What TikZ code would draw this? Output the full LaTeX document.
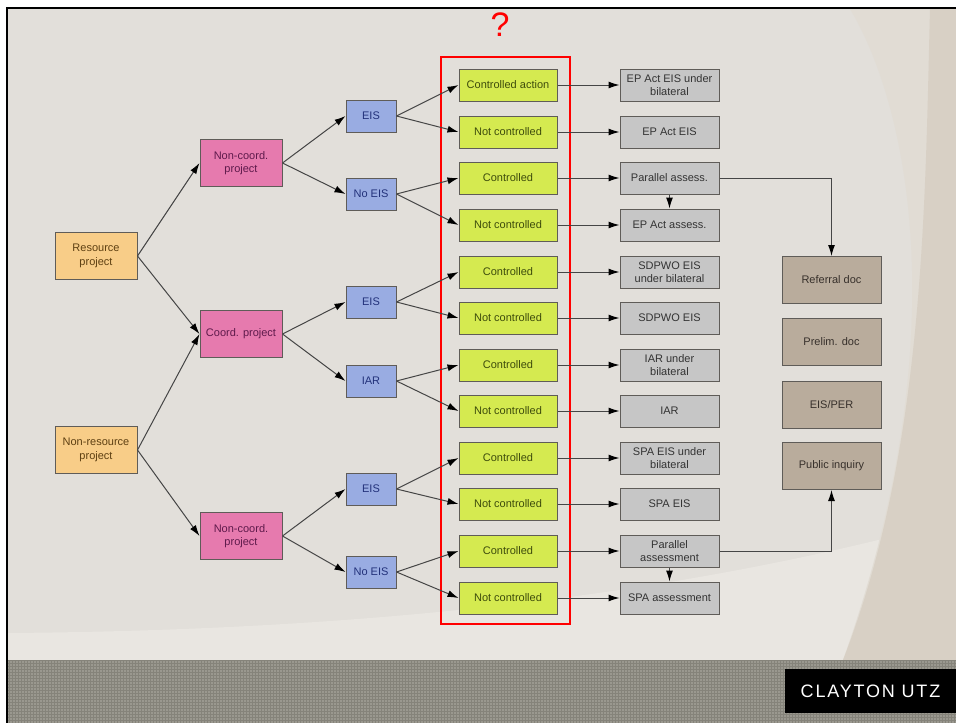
\documentclass[tikz,border=0pt]{standalone}
\usepackage{fontspec}
\setmainfont{Liberation Sans}
\newfontfamily\logofont[LetterSpace=10]{Liberation Sans}
\usetikzlibrary{arrows.meta}

\definecolor{bgmain}{HTML}{E2DFDA}
\definecolor{bglight}{HTML}{E9E6E1}
\definecolor{bgbeige}{HTML}{D8D0C5}
\definecolor{bgpale}{HTML}{E1DCD4}
\definecolor{footgrey}{HTML}{9A988F}
\definecolor{footline}{HTML}{85837A}
\definecolor{srcfill}{HTML}{F8CD88}
\definecolor{srctext}{HTML}{5E4012}
\definecolor{projfill}{HTML}{E67AAE}
\definecolor{projtext}{HTML}{5E1A4B}
\definecolor{eisfill}{HTML}{99ACE2}
\definecolor{eistext}{HTML}{22317A}
\definecolor{ctrlfill}{HTML}{D5EA50}
\definecolor{ctrltext}{HTML}{3E4C0C}
\definecolor{outfill}{HTML}{C6C6C6}
\definecolor{outtext}{HTML}{333333}
\definecolor{docfill}{HTML}{B9AC9C}
\definecolor{doctext}{HTML}{37302B}
\definecolor{boxline}{HTML}{5F5C58}
\definecolor{linkgrey}{HTML}{454545}

\tikzset{
  base/.style={rectangle, draw=boxline, line width=1pt, align=center, inner sep=1pt,
    font=\fontsize{11}{13.5}\selectfont},
  srcbox/.style={base, fill=srcfill, text=srctext, minimum width=82pt, minimum height=47pt},
  projbox/.style={base, fill=projfill, text=projtext, minimum width=82pt, minimum height=47pt},
  eisbox/.style={base, fill=eisfill, text=eistext, minimum width=50pt, minimum height=32pt},
  ctrlbox/.style={base, fill=ctrlfill, text=ctrltext, minimum width=98pt, minimum height=32pt},
  outbox/.style={base, fill=outfill, text=outtext, minimum width=99pt, minimum height=32pt},
  docbox/.style={base, fill=docfill, text=doctext, minimum width=99pt, minimum height=47pt},
  link/.style={draw=linkgrey, line width=1pt, -{Latex[length=11pt,width=7pt,black]}}
}

\begin{document}
\begin{tikzpicture}[x=1pt, y=-1pt]
\useasboundingbox (0,0) rectangle (956,723);
% slide background
\fill[white] (0,0) rectangle (956,723);
\fill[bgmain] (8,9) rectangle (956,660);
\fill[bglight] (8,633) .. controls (400,630) and (700,590) .. (956,520) -- (956,660) -- (8,660) -- cycle;
\fill[bgpale] (850,9) .. controls (905,100) and (960,330) .. (843,660) -- (956,660) -- (956,9) -- cycle;
\fill[bgbeige] (930,9) .. controls (925,200) and (925,450) .. (843,660) -- (956,660) -- (956,9) -- cycle;
\fill[footgrey] (8,660) rectangle (956,723);
\draw[footline, line width=0.6pt, step=3pt] (8,660) grid (956,723);
\draw[black, line width=2.5pt] (7,723) -- (7,8) -- (956,8);
\node[fill=black, text=white, minimum width=171pt, minimum height=44pt,
  font=\logofont\fontsize{18}{18}\selectfont] (logo) at (870.5,691) {CLAYTON UTZ};

% left part of the tree
\node[srcbox] (res) at (96,256) {Resource\\project};
\node[srcbox] (nonres) at (96,450) {Non-resource\\project};
\node[projbox] (ncA) at (241,163) {Non-coord.\\project};
\node[projbox] (coord) at (241,334) {Coord. project};
\node[projbox] (ncB) at (241,536) {Non-coord.\\project};
\node[eisbox] (eisA) at (371,116) {EIS};
\node[eisbox] (noeisA) at (371,194) {No EIS};
\node[eisbox] (eisB) at (371,302) {EIS};
\node[eisbox] (iar) at (371,381) {IAR};
\node[eisbox] (eisC) at (371,489) {EIS};
\node[eisbox] (noeisC) at (371,572) {No EIS};

% the questioned column
\node[text=red, font=\fontsize{34}{34}\selectfont] (query) at (500,25) {?};
\node[draw=red, line width=2.5pt, minimum width=129pt, minimum height=567pt] (group) at (505.5,340.5) {};
\node[ctrlbox] (c1) at (508,85) {Controlled action};
\node[ctrlbox] (c2) at (508,132) {Not controlled};
\node[ctrlbox] (c3) at (508,178) {Controlled};
\node[ctrlbox] (c4) at (508,225) {Not controlled};
\node[ctrlbox] (c5) at (508,272) {Controlled};
\node[ctrlbox] (c6) at (508,318) {Not controlled};
\node[ctrlbox] (c7) at (508,365) {Controlled};
\node[ctrlbox] (c8) at (508,411) {Not controlled};
\node[ctrlbox] (c9) at (508,458) {Controlled};
\node[ctrlbox] (c10) at (508,504) {Not controlled};
\node[ctrlbox] (c11) at (508,551) {Controlled};
\node[ctrlbox] (c12) at (508,598) {Not controlled};

% outcomes
\node[outbox] (o1) at (669.5,85) {EP Act EIS under\\bilateral};
\node[outbox] (o2) at (669.5,132) {EP Act EIS};
\node[outbox] (o3) at (669.5,178) {Parallel assess.};
\node[outbox] (o4) at (669.5,225) {EP Act assess.};
\node[outbox] (o5) at (669.5,272) {SDPWO EIS\\under bilateral};
\node[outbox] (o6) at (669.5,318) {SDPWO EIS};
\node[outbox] (o7) at (669.5,365) {IAR under\\bilateral};
\node[outbox] (o8) at (669.5,411) {IAR};
\node[outbox] (o9) at (669.5,458) {SPA EIS under\\bilateral};
\node[outbox] (o10) at (669.5,504) {SPA EIS};
\node[outbox] (o11) at (669.5,551) {Parallel\\assessment};
\node[outbox] (o12) at (669.5,598) {SPA assessment};

\node[docbox] (referral) at (831.5,280) {Referral doc};
\node[docbox] (prelim) at (831.5,342) {Prelim. doc};
\node[docbox] (eisper) at (831.5,405) {EIS/PER};
\node[docbox] (inquiry) at (831.5,466) {Public inquiry};

% connectors
\draw[link] (res.east) -- (ncA.west);
\draw[link] (res.east) -- (coord.west);
\draw[link] (nonres.east) -- (coord.west);
\draw[link] (nonres.east) -- (ncB.west);
\draw[link] (ncA.east) -- (eisA.west);
\draw[link] (ncA.east) -- (noeisA.west);
\draw[link] (coord.east) -- (eisB.west);
\draw[link] (coord.east) -- (iar.west);
\draw[link] (ncB.east) -- (eisC.west);
\draw[link] (ncB.east) -- (noeisC.west);
\draw[link] (eisA.east) -- (c1.west);
\draw[link] (eisA.east) -- (c2.west);
\draw[link] (noeisA.east) -- (c3.west);
\draw[link] (noeisA.east) -- (c4.west);
\draw[link] (eisB.east) -- (c5.west);
\draw[link] (eisB.east) -- (c6.west);
\draw[link] (iar.east) -- (c7.west);
\draw[link] (iar.east) -- (c8.west);
\draw[link] (eisC.east) -- (c9.west);
\draw[link] (eisC.east) -- (c10.west);
\draw[link] (noeisC.east) -- (c11.west);
\draw[link] (noeisC.east) -- (c12.west);
\draw[link] (c1.east) -- (o1.west);
\draw[link] (c2.east) -- (o2.west);
\draw[link] (c3.east) -- (o3.west);
\draw[link] (c4.east) -- (o4.west);
\draw[link] (c5.east) -- (o5.west);
\draw[link] (c6.east) -- (o6.west);
\draw[link] (c7.east) -- (o7.west);
\draw[link] (c8.east) -- (o8.west);
\draw[link] (c9.east) -- (o9.west);
\draw[link] (c10.east) -- (o10.west);
\draw[link] (c11.east) -- (o11.west);
\draw[link] (c12.east) -- (o12.west);
\draw[link] (o3.south) -- (o4.north);
\draw[link] (o11.south) -- (o12.north);
\draw[link] (o3.east) -| (referral.north);
\draw[link] (o11.east) -| (inquiry.south);
\end{tikzpicture}
\end{document}
